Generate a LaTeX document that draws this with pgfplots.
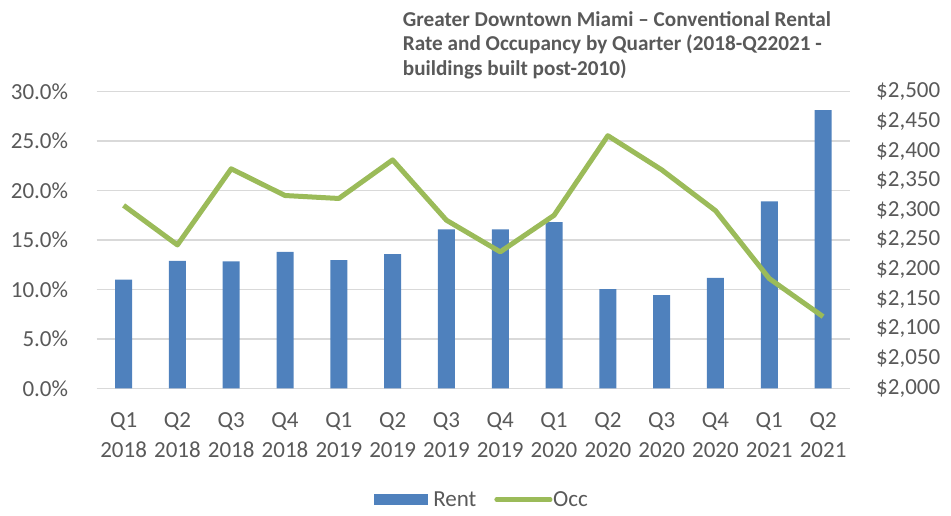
\documentclass[border=0pt]{standalone}
\usepackage{fontspec}
\setmainfont{Carlito}
\usepackage{pgfplots}
\pgfplotsset{compat=1.18}
\definecolor{barblue}{HTML}{4F81BD}
\definecolor{linegreen}{HTML}{9BBB59}
\definecolor{txtgray}{HTML}{595959}
\definecolor{gridgray}{HTML}{D9D9D9}
\pgfplotsset{
  base/.style={scale only axis, width=753.3pt, height=296.6pt,
    at={(0pt,0pt)}, anchor=south west, xmin=-0.5, xmax=13.5,
    major tick length=0pt, axis line style={draw=none},
    tick label style={font=\fontsize{23}{30}\selectfont, text=txtgray}},
  occleg/.style={legend image code/.code={\draw[##1, line width=4.3pt, line cap=round] (2.1pt,0pt) -- (55.9pt,0pt);}},
  rentleg/.style={legend image code/.code={\fill[barblue] (0pt,-5pt) rectangle (52.7pt,5pt);}},
}
\begin{document}
\begin{tikzpicture}
\path[use as bounding box] (-96.7pt,-126.7pt) rectangle (854.3pt,388.3pt);
% axis A: grid, left labels, x labels
\begin{axis}[base, ymin=0, ymax=30,
  ytick={0,5,10,15,20,25,30},
  yticklabels={0.0\%,5.0\%,10.0\%,15.0\%,20.0\%,25.0\%,30.0\%},
  ymajorgrids, grid style={gridgray, line width=1.4pt},
  yticklabel style={anchor=east, inner sep=0pt, xshift=-28.4pt},
  xtick={0,1,...,13},
  xticklabels={{Q1\\2018},{Q2\\2018},{Q3\\2018},{Q4\\2018},{Q1\\2019},{Q2\\2019},{Q3\\2019},{Q4\\2019},{Q1\\2020},{Q2\\2020},{Q3\\2020},{Q4\\2020},{Q1\\2021},{Q2\\2021}},
  xticklabel style={align=center, anchor=north, inner sep=0pt, yshift=-23.7pt},
]
\end{axis}
% axis B: bars, right labels
\begin{axis}[base, ymin=2000, ymax=2500, xtick=\empty,
  ytick={2000,2050,...,2500},
  yticklabels={\$2{,}000,\$2{,}050,\$2{,}100,\$2{,}150,\$2{,}200,\$2{,}250,\$2{,}300,\$2{,}350,\$2{,}400,\$2{,}450,\$2{,}500},
  yticklabel pos=right,
  yticklabel style={anchor=west, inner sep=0pt, xshift=26pt},
  ybar, bar width=17pt]
\addplot[fill=barblue, draw=none] coordinates {
 (0,2183) (1,2215) (2,2214) (3,2230) (4,2216) (5,2226) (6,2268)
 (7,2268) (8,2280) (9,2167) (10,2157) (11,2186) (12,2315) (13,2469)};
\end{axis}
% axis C: line + legend
\begin{axis}[base, ymin=0, ymax=30, hide axis,
  legend style={at={(rel axis cs:0.3681,-0.375)}, anchor=west, draw=none, fill=none,
    inner sep=0pt, font=\fontsize{23}{28}\selectfont, text=txtgray,
    nodes={inner sep=0pt},
    /tikz/column 1/.style={column sep=6pt},
    /tikz/column 2/.style={column sep=18pt},
    /tikz/column 3/.style={column sep=0.7pt}},
  legend columns=2]
\addlegendimage{rentleg}
\addlegendentry{Rent}
\addplot[linegreen, line width=5pt, line join=round, occleg]
  coordinates {
 (0,18.5) (1,14.5) (2,22.2) (3,19.5) (4,19.2) (5,23.1) (6,17.0)
 (7,13.8) (8,17.5) (9,25.55) (10,22.1) (11,17.97) (12,11.1) (13,7.25)};
\addlegendentry{Occ}
\end{axis}
\node[anchor=north west, align=left, inner sep=0pt, text=txtgray,
  font=\fontsize{21.2}{24.5}\selectfont\bfseries] at (306pt,377.3pt)
  {Greater Downtown Miami – Conventional Rental\\Rate and Occupancy by Quarter (2018-Q22021 -\\buildings built post-2010)};
\end{tikzpicture}
\end{document}
